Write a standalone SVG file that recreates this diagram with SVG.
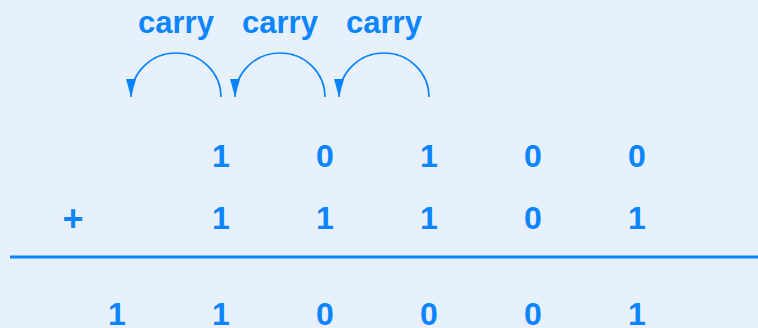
<svg xmlns="http://www.w3.org/2000/svg" width="758" height="328" viewBox="0 0 758 328">
  <style>
    .lbl { font-family: "Liberation Sans", Arial, sans-serif; font-weight: bold; fill: #0a84ff; text-anchor: middle; }
    .carry { font-size: 31px; }
    .digit { font-size: 32px; }
    .plus { font-size: 36px; }
    .arc { fill: none; stroke: #0a84ff; stroke-width: 1.6; }
    .rule { stroke: #0a84ff; stroke-width: 3; }
  </style>
  <defs>
    <marker id="ah" markerUnits="userSpaceOnUse" markerWidth="19" markerHeight="10" refX="18" refY="5" orient="auto">
      <path d="M0,0 L18,5 L0,10 z" fill="#0a84ff"/>
    </marker>
  </defs>
  <rect x="0" y="0" width="758" height="328" fill="#e7f1fd"/>

  <g id="carry-labels">
    <text class="lbl carry" x="176" y="33">carry</text>
    <text class="lbl carry" x="280" y="33">carry</text>
    <text class="lbl carry" x="384" y="33">carry</text>
  </g>

  <g id="connectors">
    <path class="arc" d="M221,97 A45,44 0 0 0 131,97" marker-end="url(#ah)"/>
    <path class="arc" d="M325,97 A45,44 0 0 0 235,97" marker-end="url(#ah)"/>
    <path class="arc" d="M429,97 A45,44 0 0 0 339,97" marker-end="url(#ah)"/>
  </g>

  <g id="row1">
    <text class="lbl digit" x="221" y="167">1</text>
    <text class="lbl digit" x="325" y="167">0</text>
    <text class="lbl digit" x="429" y="167">1</text>
    <text class="lbl digit" x="533" y="167">0</text>
    <text class="lbl digit" x="637" y="167">0</text>
  </g>

  <g id="row2">
    <text class="lbl plus" x="73" y="231">+</text>
    <text class="lbl digit" x="221" y="229">1</text>
    <text class="lbl digit" x="325" y="229">1</text>
    <text class="lbl digit" x="429" y="229">1</text>
    <text class="lbl digit" x="533" y="229">0</text>
    <text class="lbl digit" x="637" y="229">1</text>
  </g>

  <g id="sum-line">
    <line class="rule" x1="10" y1="257" x2="758" y2="257"/>
  </g>

  <g id="result">
    <text class="lbl digit" x="117" y="325">1</text>
    <text class="lbl digit" x="221" y="325">1</text>
    <text class="lbl digit" x="325" y="325">0</text>
    <text class="lbl digit" x="429" y="325">0</text>
    <text class="lbl digit" x="533" y="325">0</text>
    <text class="lbl digit" x="637" y="325">1</text>
  </g>
</svg>
